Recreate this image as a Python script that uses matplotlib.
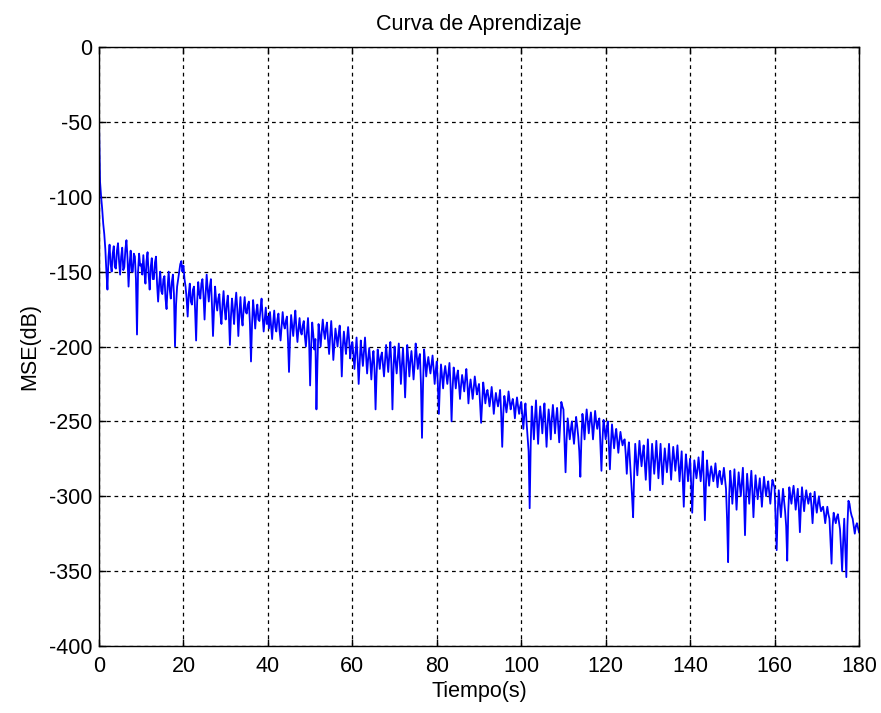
import matplotlib
matplotlib.use("Agg")
import matplotlib.pyplot as plt
import numpy as np

# Time step between samples (s)
dt = 0.25

# MSE values in dB, 0.25 s apart (0 .. 180 s)
mse_0_10 = [-50, -90, -100, -108, -118, -125, -135, -150, -162, -140,
            -132, -145, -150, -138, -133, -147, -148, -136, -131, -143,
            -152, -140, -134, -149, -147, -135, -129, -141, -160, -145,
            -136, -150, -150, -138, -140, -155, -192, -150, -138, -146]
mse_10_20 = [-145, -152, -139, -150, -158, -143, -137, -152, -162, -147,
             -141, -155, -155, -144, -140, -158, -170, -158, -150, -163,
             -165, -155, -153, -168, -175, -160, -150, -162, -168, -157,
             -152, -165, -200, -172, -160, -155, -150, -145, -143, -150]
mse_20_30 = [-146, -155, -160, -168, -180, -165, -158, -170, -172, -162,
             -160, -175, -196, -170, -157, -165, -168, -158, -155, -166,
             -182, -165, -152, -162, -170, -160, -155, -172, -193, -175,
             -160, -170, -176, -168, -165, -178, -185, -172, -163, -175]
mse_30_40 = [-182, -172, -166, -178, -199, -180, -168, -176, -185, -172,
             -164, -175, -193, -178, -167, -180, -186, -175, -167, -177,
             -178, -172, -170, -185, -210, -185, -169, -178, -188, -177,
             -172, -182, -183, -175, -168, -180, -190, -182, -174, -185]
mse_40_50 = [-180, -188, -177, -186, -195, -184, -176, -187, -190, -182,
             -178, -189, -196, -186, -177, -185, -188, -183, -180, -195,
             -217, -195, -179, -186, -193, -184, -176, -188, -197, -188,
             -181, -190, -192, -186, -183, -193, -200, -190, -181, -195]
mse_50_60 = [-226, -200, -184, -192, -202, -195, -242, -210, -185, -192,
             -200, -190, -182, -190, -195, -188, -184, -196, -205, -193,
             -183, -195, -209, -198, -188, -194, -200, -192, -186, -198,
             -220, -200, -190, -198, -205, -195, -187, -196, -208, -200]
mse_60_70 = [-197, -205, -215, -205, -194, -208, -225, -210, -196, -205,
             -213, -203, -194, -206, -218, -208, -201, -210, -222, -210,
             -203, -215, -242, -218, -202, -208, -215, -207, -204, -212,
             -220, -210, -199, -208, -217, -206, -197, -212, -242, -215]
mse_70_80 = [-200, -210, -218, -208, -198, -210, -225, -212, -201, -215,
             -234, -215, -199, -208, -220, -210, -203, -212, -222, -212,
             -198, -206, -215, -208, -205, -225, -261, -225, -202, -210,
             -220, -212, -207, -213, -218, -212, -206, -215, -225, -216]
mse_80_90 = [-210, -225, -245, -225, -212, -220, -228, -218, -213, -219,
             -225, -218, -211, -225, -250, -228, -214, -220, -228, -220,
             -216, -225, -235, -226, -219, -224, -230, -222, -215, -225,
             -238, -228, -222, -228, -235, -228, -220, -226, -232, -228]
mse_90_100 = [-225, -238, -251, -238, -224, -230, -238, -232, -229, -234,
              -240, -234, -227, -235, -245, -237, -231, -236, -240, -235,
              -229, -245, -267, -245, -233, -238, -244, -238, -230, -236,
              -242, -238, -235, -240, -248, -240, -234, -240, -245, -240]
mse_100_110 = [-237, -246, -255, -245, -238, -250, -260, -270, -308, -265,
               -240, -250, -262, -248, -236, -250, -265, -250, -240, -248,
               -258, -246, -238, -252, -267, -252, -242, -250, -262, -248,
               -239, -248, -258, -248, -241, -252, -264, -250, -237, -240]
mse_110_120 = [-242, -262, -284, -262, -248, -255, -262, -255, -250, -258,
               -265, -256, -247, -253, -260, -270, -287, -262, -245, -252,
               -262, -250, -242, -250, -258, -250, -244, -252, -262, -252,
               -243, -250, -255, -250, -248, -265, -283, -262, -249, -255]
mse_120_130 = [-262, -255, -250, -265, -282, -265, -252, -260, -268, -260,
               -255, -263, -271, -263, -257, -262, -266, -263, -262, -272,
               -285, -272, -264, -276, -289, -300, -314, -285, -265, -275,
               -286, -275, -263, -272, -280, -272, -266, -277, -289, -275]
mse_130_140 = [-262, -278, -296, -278, -265, -275, -285, -275, -263, -276,
               -288, -276, -265, -278, -292, -278, -268, -276, -284, -276,
               -265, -277, -289, -277, -267, -275, -283, -275, -266, -278,
               -290, -280, -270, -288, -307, -285, -272, -280, -290, -282]
mse_140_150 = [-275, -292, -311, -290, -276, -282, -288, -282, -274, -282,
               -290, -282, -270, -290, -316, -292, -276, -285, -293, -285,
               -280, -285, -290, -285, -278, -286, -294, -286, -283, -288,
               -292, -287, -281, -288, -295, -315, -344, -300, -283, -292]
mse_150_160 = [-305, -293, -282, -295, -309, -295, -284, -292, -300, -290,
               -281, -300, -326, -300, -285, -295, -305, -293, -283, -297,
               -314, -298, -286, -294, -302, -295, -288, -297, -307, -296,
               -287, -294, -300, -294, -290, -298, -305, -296, -289, -292]
mse_160_170 = [-294, -315, -336, -310, -296, -305, -314, -304, -295, -303,
               -310, -320, -343, -310, -294, -300, -305, -298, -293, -300,
               -309, -302, -295, -308, -324, -306, -294, -302, -310, -302,
               -296, -301, -305, -301, -298, -307, -318, -306, -297, -305]
mse_170_180 = [-311, -305, -300, -306, -310, -308, -307, -312, -318, -312,
               -307, -312, -315, -330, -345, -320, -311, -315, -318, -314,
               -312, -317, -322, -335, -350, -330, -315, -335, -354, -320,
               -303, -305, -310, -313, -315, -320, -325, -320, -318, -321,
               -324]

mse = (mse_0_10 + mse_10_20 + mse_20_30 + mse_30_40 + mse_40_50 + mse_50_60 +
       mse_60_70 + mse_70_80 + mse_80_90 + mse_90_100 + mse_100_110 +
       mse_110_120 + mse_120_130 + mse_130_140 + mse_140_150 + mse_150_160 +
       mse_160_170 + mse_170_180)
t = np.arange(len(mse)) * dt

x_ticks = [0, 20, 40, 60, 80, 100, 120, 140, 160, 180]
y_ticks = [0, -50, -100, -150, -200, -250, -300, -350, -400]

plt.rcParams['font.family'] = ['Liberation Sans', 'DejaVu Sans']
fs = 15.5

fig = plt.figure(figsize=(8.81, 7.13), dpi=100, facecolor='white')
ax = fig.add_axes([99/881, 1-646/713, 760/881, 599/713])

ax.plot(t, mse, color=(0, 0, 1), linewidth=1.3)

ax.set_xlim(0, 180)
ax.set_ylim(-400, 0)
ax.set_xticks(x_ticks)
ax.set_yticks(y_ticks)
ax.set_xticklabels([str(v) for v in x_ticks], fontsize=fs)
ax.set_yticklabels([str(v) for v in y_ticks], fontsize=fs)
ax.tick_params(direction='in', top=True, right=True, length=5, width=1)
ax.tick_params(axis='x', pad=7)
ax.tick_params(axis='y', pad=5)
ax.grid(True, color='black', linestyle=(0, (3, 3)), linewidth=0.9)
for s in ax.spines.values():
    s.set_linewidth(1.0)
    s.set_color('black')

ax.set_title('Curva de Aprendizaje', fontsize=fs, pad=12)
ax.set_xlabel('Tiempo(s)', fontsize=fs, labelpad=3)
ax.set_ylabel('MSE(dB)', fontsize=fs, labelpad=6)

fig.savefig('out.png', dpi=100, facecolor='white')
